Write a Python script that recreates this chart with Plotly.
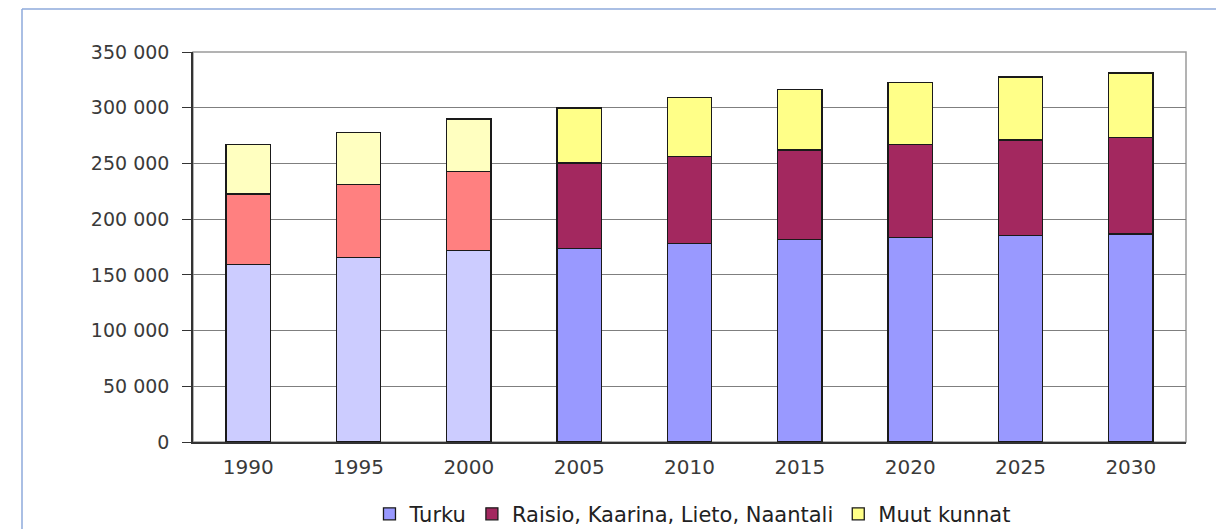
import plotly.graph_objects as go

# Population of the Turku region, history (1990-2000) and projection (2005-2030)
years = ['1990', '1995', '2000', '2005', '2010', '2015', '2020', '2025', '2030']
turku = [159000, 165400, 171700, 173800, 178300, 181900, 183700, 185200, 186700]
raisio_kaarina_lieto_naantali = [63600, 65500, 71200, 76700, 77700, 80100, 83400, 85800, 86400]
muut_kunnat = [44600, 47000, 47100, 49200, 53300, 54500, 55400, 56500, 58000]

n_hist = 3  # first three columns are observed values, drawn in lighter tones

series = [
    ('Turku', turku, '#CCCCFF', '#9999FF'),
    ('Raisio, Kaarina, Lieto, Naantali', raisio_kaarina_lieto_naantali, '#FF8080', '#A3285F'),
    ('Muut kunnat', muut_kunnat, '#FFFFC0', '#FFFF88'),
]

fig = go.Figure()
for name, values, light, dark in series:
    fig.add_trace(go.Bar(
        x=years[:n_hist], y=values[:n_hist], name=name,
        marker=dict(color=light, line=dict(color='#1a1a1a', width=1.3)),
        width=0.4, showlegend=False, legendgroup=name,
    ))
    fig.add_trace(go.Bar(
        x=years[n_hist:], y=values[n_hist:], name=name,
        marker=dict(color=dark, line=dict(color='#1a1a1a', width=1.3)),
        width=0.4, legendgroup=name,
    ))

# the page body has an 8px margin, so the figure is 8px smaller than the window
fig.update_layout(
    barmode='stack',
    width=1216, height=521,
    margin=dict(l=185, r=38, t=44, b=87, autoexpand=False),
    paper_bgcolor='white',
    plot_bgcolor='white',
    separators=', ',
    font=dict(family='DejaVu Sans, Arial, sans-serif', size=19, color='#3a3a3a'),
    legend=dict(
        orientation='h', x=0.503, xanchor='center', y=-0.185, yanchor='middle',
        font=dict(size=21, color='#222222'), traceorder='normal',
        itemwidth=30, tracegroupgap=0,
    ),
    shapes=[
        # outer light-blue frame of the original figure
        dict(type='line', xref='paper', yref='paper',
             x0=-0.1722, x1=1.06, y0=1.110, y1=1.110,
             line=dict(color='#8EAADB', width=1.5)),
        dict(type='line', xref='paper', yref='paper',
             x0=-0.1722, x1=-0.1722, y0=1.110, y1=-0.3,
             line=dict(color='#8EAADB', width=1.5)),
    ],
)

fig.update_xaxes(
    type='category',
    showline=True, linecolor='#333333', linewidth=1.5,
    mirror=False, ticks='', showgrid=False,
    ticklabelstandoff=6,
    tickfont=dict(size=20, color='#3a3a3a'),
)
fig.update_yaxes(
    range=[0, 350000], dtick=50000, tickformat=',d',
    showgrid=True, gridcolor='#7f7f7f', gridwidth=1,
    showline=True, linecolor='#333333', linewidth=1.5,
    ticks='outside', ticklen=9, tickcolor='#333333',
    ticklabelstandoff=9,
    tickfont=dict(size=19, color='#3a3a3a'),
    zeroline=False,
)

# grey frame on top and right of the plot area
fig.add_shape(type='rect', xref='paper', yref='paper', x0=0, x1=1, y0=0, y1=1,
              line=dict(color='#9a9a9a', width=1.5), layer='below')

fig.write_html("out.html")
